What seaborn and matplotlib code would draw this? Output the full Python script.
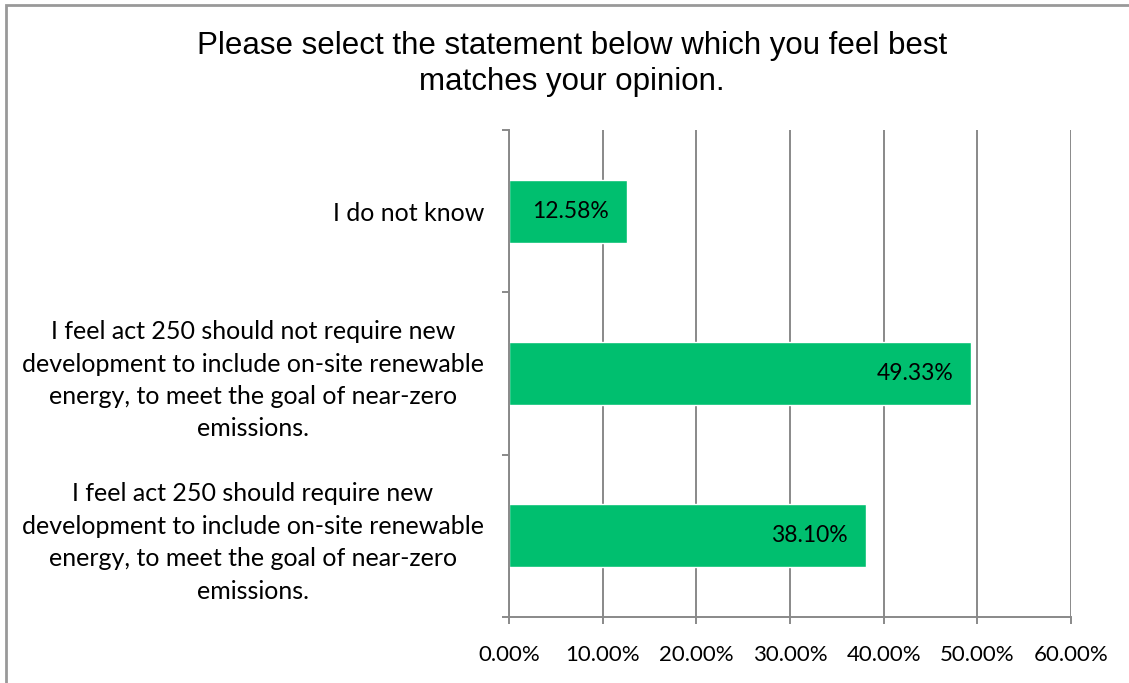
import matplotlib
matplotlib.use('Agg')
import matplotlib.pyplot as plt
import matplotlib.patches as mpatches
from matplotlib.ticker import PercentFormatter, FixedLocator
import seaborn as sns
import pandas as pd

# Survey answers and share of responses (%)
statements = [
    'I do not know',
    'I feel act 250 should not require new\ndevelopment to include on-site renewable\nenergy, to meet the goal of near-zero\nemissions.',
    'I feel act 250 should require new\ndevelopment to include on-site renewable\nenergy, to meet the goal of near-zero\nemissions.',
]
shares = [12.58, 49.33, 38.10]
x_ticks = [0, 10, 20, 30, 40, 50, 60]
title = 'Please select the statement below which you feel best\nmatches your opinion.'

df = pd.DataFrame({'Statement': statements, 'Share': shares})

sns.set_theme(style='white')
plt.rcParams['font.family'] = ['Lato', 'DejaVu Sans']
plt.rcParams['text.color'] = 'black'
plt.rcParams['xtick.color'] = 'black'
plt.rcParams['ytick.color'] = 'black'

grey = '#898989'
green = '#00BF6F'

fig = plt.figure(figsize=(11.29, 6.83), dpi=100)
ax = fig.add_axes([509 / 1129, 1 - 617 / 683, 562 / 1129, 487 / 683])

sns.barplot(data=df, x='Share', y='Statement', orient='h', color=green,
            width=0.39, saturation=1, ax=ax)

ax.set_xlim(0, 60)
ax.set_ylim(2.5, -0.5)
ax.set_xticks(x_ticks)
ax.xaxis.set_major_formatter(PercentFormatter(decimals=2))
ax.grid(axis='x', color=grey, linewidth=1.4)
ax.set_axisbelow(True)
ax.set_xlabel('')
ax.set_ylabel('')

for side in ['top', 'right']:
    ax.spines[side].set_visible(False)
for side in ['left', 'bottom']:
    ax.spines[side].set_color(grey)
    ax.spines[side].set_linewidth(1.4)

# category boundaries get the tick marks, labels sit in between
ax.yaxis.set_minor_locator(FixedLocator([-0.5, 0.5, 1.5, 2.5]))
ax.tick_params(axis='y', which='major', length=0, pad=18, labelsize=18)
ax.tick_params(axis='y', which='minor', length=5, width=1.4, color=grey, left=True)
ax.tick_params(axis='x', length=5, width=1.4, color=grey, labelcolor='black',
               bottom=True, pad=15, labelsize=16)
for lbl in ax.get_yticklabels():
    lbl.set_multialignment('center')
    lbl.set_linespacing(1.5)

labels = ax.bar_label(ax.containers[0], fmt='%.2f%%', padding=-13, fontsize=16.5, color='black')
for t in labels:
    t.set_ha('right')

fig.text(572 / 1129, 1 - 31 / 683, title, ha='center', va='top', fontsize=22.5,
         family=['Liberation Sans', 'DejaVu Sans'], linespacing=1.28, color='black')

# chart frame (top and left edge visible)
fig.patches.append(mpatches.Rectangle((6 / 1129, -0.1), 1.2, 1 - 5 / 683 + 0.1,
                                      transform=fig.transFigure, fill=False,
                                      edgecolor='#999999', linewidth=2))

fig.savefig('out.png', dpi=100)
